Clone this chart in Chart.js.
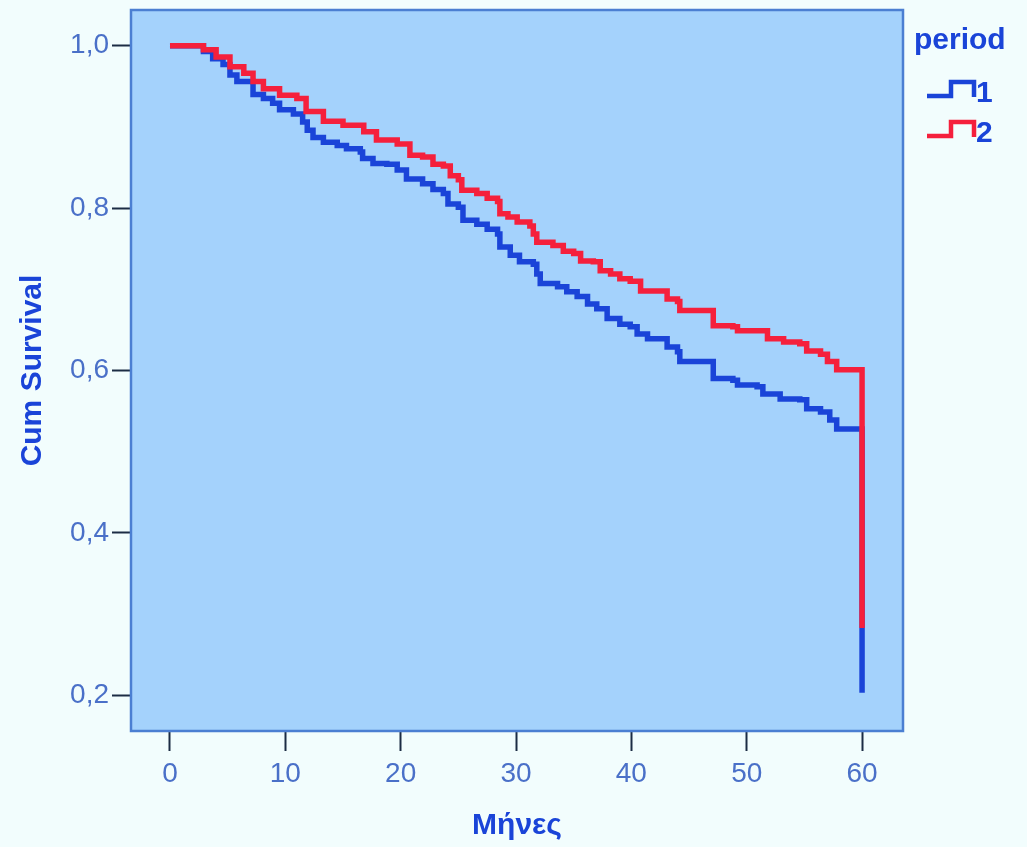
<!DOCTYPE html>
<html>
<head>
<meta charset="utf-8">
<script src="https://cdn.jsdelivr.net/npm/chart.js@4/dist/chart.umd.min.js"></script>
<style>
  html, body { margin: 0; padding: 0; background: #f2fdfd; }
  #wrap { width: 1027px; height: 847px; position: relative; }
</style>
</head>
<body>
<div id="wrap"><canvas id="survChart"></canvas></div>
<script>
// period 1 (blue): months at which the curve drops, and cumulative survival after the drop
const months1 = [0, 2.9, 3.7, 4.6, 5.2, 5.8, 7.2, 8.1, 8.9, 9.5, 10.7, 11.5, 11.9, 12.4, 13.3, 14.5, 15.3, 16.5, 16.7, 17.6, 18.8, 19.7, 20.5,
  21.9, 22.8, 23.7, 24.1, 25.0, 25.4, 26.6, 27.5, 28.4, 28.6, 29.5, 30.3, 31.5, 31.8, 32.1, 33.6, 34.4, 35.3, 36.2, 37.0, 37.9, 39.0, 39.9,
  40.5, 41.4, 43.1, 44.0, 44.2, 47.1, 48.8, 49.2, 50.9, 51.4, 52.9, 54.6, 55.2, 56.4, 57.2, 57.8, 60, 60];
const survival1 = [1.0, 0.993, 0.984, 0.977, 0.964, 0.956, 0.940, 0.935, 0.929, 0.921, 0.916, 0.906, 0.896, 0.887, 0.881, 0.877, 0.873, 0.869, 0.861, 0.855, 0.854, 0.847, 0.836,
  0.830, 0.823, 0.818, 0.805, 0.801, 0.785, 0.780, 0.774, 0.768, 0.752, 0.742, 0.734, 0.731, 0.719, 0.707, 0.703, 0.697, 0.691, 0.682, 0.676, 0.664, 0.657, 0.654,
  0.645, 0.639, 0.629, 0.623, 0.611, 0.590, 0.588, 0.582, 0.580, 0.571, 0.565, 0.564, 0.553, 0.549, 0.539, 0.528, 0.528, 0.203];

// period 2 (red)
const months2 = [0, 2.9, 4.0, 5.2, 6.4, 7.2, 8.1, 9.5, 11.0, 11.8, 13.3, 15.0, 16.8, 17.9, 19.7, 20.8, 21.9, 22.8, 23.7, 24.3, 25.0, 25.3,
  26.6, 27.5, 28.4, 28.6, 29.3, 30.1, 31.2, 31.5, 31.8, 33.2, 34.1, 35.0, 35.6, 36.7, 37.3, 38.2, 39.0, 39.9, 40.8, 43.1, 44.0, 44.2,
  47.1, 48.8, 49.2, 51.8, 53.2, 54.6, 55.2, 56.4, 57.0, 57.8, 60, 60];
const survival2 = [1.0, 0.995, 0.986, 0.974, 0.966, 0.956, 0.947, 0.939, 0.935, 0.919, 0.907, 0.902, 0.894, 0.884, 0.879, 0.865, 0.863, 0.854, 0.852, 0.840, 0.835, 0.822,
  0.818, 0.812, 0.808, 0.793, 0.789, 0.783, 0.778, 0.768, 0.758, 0.754, 0.747, 0.744, 0.735, 0.734, 0.723, 0.719, 0.713, 0.710, 0.698, 0.688, 0.685, 0.674,
  0.655, 0.654, 0.649, 0.639, 0.635, 0.633, 0.624, 0.620, 0.611, 0.601, 0.601, 0.283];

const xTicks = [0, 10, 20, 30, 40, 50, 60];
const yTicks = [0.2, 0.4, 0.6, 0.8, 1.0];
const periods = ['1', '2'];

const blue = '#1a44d8';
const red = '#f5203c';
const labelColor = '#4a70c8';

function toPoints(xs, ys) {
    return xs.map(function(x, i) { return { x: x, y: ys[i] }; });
}

// plot background and frame, like the SPSS chart
const plotArea = {
    id: 'plotArea',
    beforeDatasetsDraw(chart) {
        const a = chart.chartArea;
        const ctx = chart.ctx;
        ctx.save();
        ctx.fillStyle = '#a4d2fc';
        ctx.fillRect(a.left, a.top, a.right - a.left, a.bottom - a.top);
        ctx.restore();
    },
    afterDatasetsDraw(chart) {
        const a = chart.chartArea;
        const ctx = chart.ctx;
        ctx.save();
        ctx.strokeStyle = '#4b7fd2';
        ctx.lineWidth = 2.5;
        ctx.strokeRect(a.left, a.top, a.right - a.left, a.bottom - a.top);
        ctx.restore();
    }
};

// legend: "period" with step symbols
const stepLegend = {
    id: 'stepLegend',
    afterDraw(chart) {
        const ctx = chart.ctx;
        ctx.save();
        ctx.fillStyle = blue;
        ctx.font = 'bold 30px "Liberation Sans", Arial, sans-serif';
        ctx.textBaseline = 'middle';
        ctx.textAlign = 'left';
        ctx.fillText('period', 914, 41);
        const colors = [blue, red];
        periods.forEach(function(p, i) {
            const y0 = 96 + i * 40;
            ctx.strokeStyle = colors[i];
            ctx.lineWidth = 4.5;
            ctx.beginPath();
            ctx.moveTo(927, y0);
            ctx.lineTo(951, y0);
            ctx.lineTo(951, y0 - 14);
            ctx.lineTo(974, y0 - 14);
            ctx.lineTo(974, y0 + 1);
            ctx.stroke();
            ctx.fillStyle = blue;
            ctx.font = 'bold 30px "Liberation Sans", Arial, sans-serif';
            ctx.fillText(p, 976, y0 - 2);
        });
        ctx.restore();
    }
};

const ctx = document.getElementById('survChart').getContext('2d');
new Chart(ctx, {
    type: 'line',
    data: {
        datasets: [{
            label: '2',
            data: toPoints(months2, survival2),
            borderColor: red,
            borderWidth: 5.5,
            stepped: 'before',
            pointRadius: 0,
            fill: false,
        }, {
            label: '1',
            data: toPoints(months1, survival1),
            borderColor: blue,
            borderWidth: 5.5,
            stepped: 'before',
            pointRadius: 0,
            fill: false,
        }]
    },
    options: {
        responsive: true,
        maintainAspectRatio: false,
        animation: false,
        layout: { padding: { top: 10, right: 124, left: 0, bottom: 0 } },
        plugins: {
            legend: { display: false },
            tooltip: { enabled: false }
        },
        scales: {
            x: {
                type: 'linear',
                min: -3.38,
                max: 63.55,
                afterBuildTicks: function(scale) {
                    scale.ticks = xTicks.map(function(v) { return { value: v }; });
                },
                afterFit: function(scale) {
                    scale.height = 116;
                    scale.paddingLeft = 0;
                    scale.paddingRight = 0;
                },
                grid: { drawOnChartArea: false, drawTicks: true, tickLength: 20, tickColor: '#1c2c44', tickWidth: 2 },
                border: { display: false },
                ticks: {
                    color: labelColor,
                    padding: 6,
                    font: { family: '"Liberation Sans Narrow", "Liberation Sans", sans-serif', size: 28 },
                    callback: function(v) { return String(v); }
                },
                title: {
                    display: true,
                    text: 'Μήνες',
                    color: blue,
                    font: { family: '"Liberation Sans", Arial, sans-serif', size: 30, weight: 'bold' },
                    padding: { top: 0, bottom: 3 }
                }
            },
            y: {
                type: 'linear',
                min: 0.156,
                max: 1.044,
                afterBuildTicks: function(scale) {
                    scale.ticks = yTicks.map(function(v) { return { value: v }; });
                },
                afterFit: function(scale) {
                    scale.width = 131;
                    scale.paddingTop = 0;
                    scale.paddingBottom = 0;
                },
                grid: { drawOnChartArea: false, drawTicks: true, tickLength: 19, tickColor: '#1c2c44', tickWidth: 2 },
                border: { display: false },
                ticks: {
                    color: labelColor,
                    padding: 3,
                    font: { family: '"Liberation Sans Narrow", "Liberation Sans", sans-serif', size: 28 },
                    callback: function(v) { return v.toFixed(1).replace('.', ','); }
                },
                title: {
                    display: true,
                    text: 'Cum Survival',
                    color: blue,
                    font: { family: '"Liberation Sans", Arial, sans-serif', size: 30, weight: 'bold' },
                    padding: { top: 15, bottom: 0 }
                }
            }
        }
    },
    plugins: [plotArea, stepLegend]
});
</script>
</body>
</html>
